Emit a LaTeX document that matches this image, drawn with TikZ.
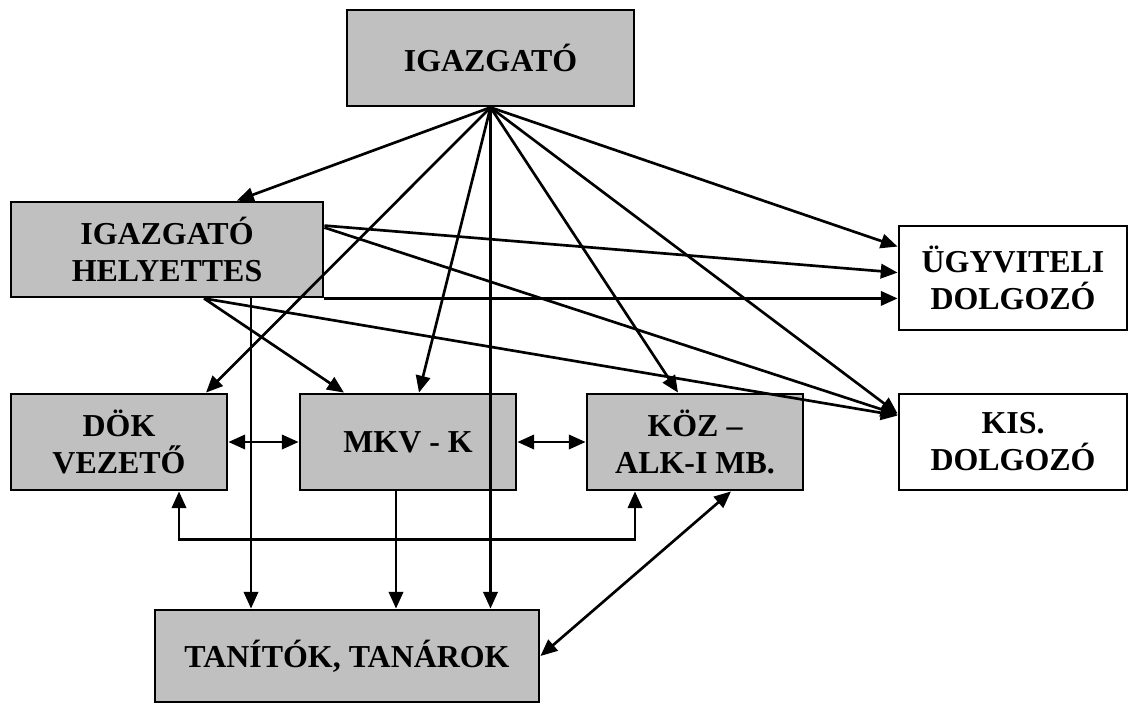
\documentclass[tikz,border=0pt]{standalone}
\usepackage{fontspec}
\setmainfont{Liberation Serif}
\usepackage{xcolor}
\usetikzlibrary{arrows.meta}
\usetikzlibrary{positioning,calc}
\definecolor{boxgray}{RGB}{192,192,192}

\begin{document}
\begin{tikzpicture}[x=0.025cm,y=-0.025cm]
\tikzset{orgbox/.style={rectangle,draw,line width=2pt,fill=boxgray,align=center,inner sep=0pt,font=\fontsize{22.7}{26.3}\selectfont\bfseries},
whitebox/.style={orgbox,fill=white},
link/.style={line width=1.9pt,-{Triangle[length=0.42cm,width=0.36cm]}},
duplink/.style={line width=1.9pt,{Triangle[length=0.42cm,width=0.36cm]}-{Triangle[length=0.42cm,width=0.36cm]}}}
\path[use as bounding box,fill=white] (0,0) rectangle (1129,704);
% boxes
\node[orgbox,minimum width=7.175cm,minimum height=2.4cm](igaz) at (490.5,58){IGAZGATÓ};
\node[orgbox,minimum width=7.8cm,minimum height=2.375cm](hely) at (167,249.5){IGAZGATÓ\\HELYETTES};
\node[whitebox,minimum width=5.7cm,minimum height=2.6cm](ugy) at (1013,278){ÜGYVITELI\\DOLGOZÓ};
\node[whitebox,minimum width=5.7cm,minimum height=2.4cm](kis) at (1013,442){KIS.\\DOLGOZÓ};
\node[orgbox,minimum width=5.4cm,minimum height=2.4cm](dok) at (119,442){DÖK\\VEZETŐ};
\node[orgbox,minimum width=5.4cm,minimum height=2.4cm](mkv) at (408,442){MKV - K};
\node[orgbox,minimum width=5.4cm,minimum height=2.4cm](koz) at (695,442){KÖZ –\\ALK-I MB.};
\node[orgbox,minimum width=9.6cm,minimum height=2.3cm](tan) at (347,656){TANÍTÓK, TANÁROK};
% from the director
\draw[link](igaz.south) -- ($(hely.north)+(70,0)$);
\draw[link](igaz.south) -- ($(dok.north)+(87,0)$);
\draw[link](igaz.south) -- ($(mkv.north)+(11,0)$);
\draw[link](igaz.south) -- (igaz.south |- tan.north);
\draw[link](igaz.south) -- ($(koz.north)+(-17,0)$);
\draw[link](igaz.south) -- ($(kis.north west)+(0,21)$);
\draw[link](igaz.south) -- ($(ugy.north west)+(0,22)$);
% from the deputy
\coordinate (hb) at ($(hely.south)+(37,0)$);
\coordinate (hv) at ($(hely.south)+(84,0)$);
\draw[link]($(hely.north east)+(0,25)$) -- ($(ugy.north west)+(0,48)$);
\draw[link]($(hely.north east)+(0,27)$) -- ($(kis.north west)+(0,22)$);
\draw[link](hely.south east) -- (hely.south east -| ugy.west);
\draw[link](hb) -- ($(mkv.north)+(-64,0)$);
\draw[link](hb) -- ($(kis.north west)+(0,23)$);
\draw[link](hv) -- (hv |- tan.north);
% middle row
\coordinate (mv) at ($(mkv.south)+(-12,0)$);
\draw[duplink](dok.east) -- (mkv.west);
\draw[duplink](mkv.east) -- (koz.west);
\draw[duplink]($(dok.south)+(60,0)$) -- ++(0,48) -| ($(koz.south)+(-60,0)$);
\draw[link](mv) -- (mv |- tan.north);
\draw[duplink](tan.east) -- ($(koz.south)+(36,0)$);
\end{tikzpicture}
\end{document}
